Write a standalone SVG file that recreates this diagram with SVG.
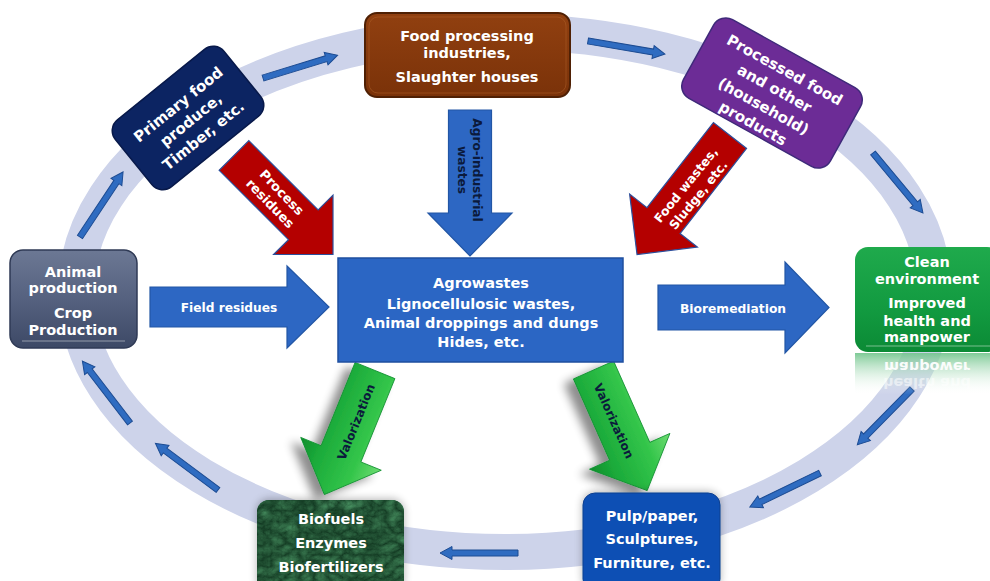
<svg xmlns="http://www.w3.org/2000/svg" width="990" height="581" viewBox="0 0 990 581">
  <defs>
    <style>
      .lbl{font-family:"DejaVu Sans","Liberation Sans",sans-serif;font-weight:bold;text-anchor:middle;fill:#ffffff;font-size:14.5px}
      .dark{fill:#0b1a3c}
      .ring{fill:none;stroke:#cdd3ea;stroke-width:36}
      .ra{fill:#2f6cc1;stroke:#1d4c93;stroke-width:1}
      .blue-arrow{fill:#2d67c3;stroke:#2256a5;stroke-width:1.2}
      .red-arrow{fill:#b40000;stroke:#2b4f9c;stroke-width:1.2}
      .green-arrow{fill:url(#gGreen);stroke:#119030;stroke-width:0.8}
    </style>
    <!-- small arrow running along the cycle band -->
    <path id="ra" d="M0,-3 L66,-3 L66,-6.5 L78,0 L66,6.5 L66,3 L0,3 Z"/>
    <linearGradient id="gGreen" x1="0" y1="0" x2="0" y2="1">
      <stop offset="0" stop-color="#6fdc72"/>
      <stop offset="0.3" stop-color="#33c54a"/>
      <stop offset="0.75" stop-color="#1baa3a"/>
      <stop offset="1" stop-color="#0f8d2c"/>
    </linearGradient>
    <linearGradient id="gSlate" x1="0" y1="0" x2="0" y2="1">
      <stop offset="0" stop-color="#6c7894"/>
      <stop offset="0.5" stop-color="#55617f"/>
      <stop offset="1" stop-color="#3d4966"/>
    </linearGradient>
    <linearGradient id="gClean" x1="0" y1="0" x2="0" y2="1">
      <stop offset="0" stop-color="#1faa4c"/>
      <stop offset="0.6" stop-color="#129a40"/>
      <stop offset="1" stop-color="#0b8a35"/>
    </linearGradient>
    <linearGradient id="gBrown" x1="0" y1="0" x2="0" y2="1">
      <stop offset="0" stop-color="#914010"/>
      <stop offset="1" stop-color="#7a3209"/>
    </linearGradient>
    <linearGradient id="gRefl" x1="0" y1="0" x2="0" y2="1">
      <stop offset="0" stop-color="#6fc48a" stop-opacity="0.9"/>
      <stop offset="1" stop-color="#ffffff" stop-opacity="0"/>
    </linearGradient>
    <filter id="shadow" x="-40%" y="-40%" width="180%" height="180%">
      <feGaussianBlur in="SourceAlpha" stdDeviation="5"/>
      <feOffset dx="-9" dy="5"/>
      <feComponentTransfer><feFuncA type="linear" slope="0.45"/></feComponentTransfer>
      <feMerge><feMergeNode/><feMergeNode in="SourceGraphic"/></feMerge>
    </filter>
    <filter id="glow" x="-20%" y="-20%" width="140%" height="140%">
      <feGaussianBlur in="SourceAlpha" stdDeviation="4"/>
      <feOffset dx="0" dy="-1"/>
      <feComponentTransfer><feFuncA type="linear" slope="0.3"/></feComponentTransfer>
      <feMerge><feMergeNode/><feMergeNode in="SourceGraphic"/></feMerge>
    </filter>
    <!-- dark green marble surface -->
    <filter id="marble" x="0" y="0" width="100%" height="100%" color-interpolation-filters="sRGB">
      <feTurbulence type="turbulence" baseFrequency="0.07 0.09" numOctaves="4" seed="11" result="n"/>
      <feColorMatrix in="n" type="matrix" values="0.22 0 0 0 0.07  0.36 0 0 0 0.22  0.26 0 0 0 0.13  0 0 0 0 1" result="c"/>
      <feComposite in="c" in2="SourceGraphic" operator="in"/>
    </filter>
    <clipPath id="reflClip"><rect x="850" y="352" width="140" height="42"/></clipPath>
  </defs>

  <rect width="990" height="581" fill="#ffffff"/>

  <!-- cycle band and its direction arrows -->
  <g id="connectors">
    <ellipse class="ring" cx="505" cy="292" rx="429" ry="260"/>
    <use href="#ra" class="ra" transform="translate(263,78) rotate(-17)"/>
    <use href="#ra" class="ra" transform="translate(80,237) rotate(-56.5)"/>
    <use href="#ra" class="ra" transform="translate(588,41) rotate(9.6)"/>
    <use href="#ra" class="ra" transform="translate(873,153) rotate(50.2)"/>
    <use href="#ra" class="ra" transform="translate(912,389) rotate(134.5)"/>
    <use href="#ra" class="ra" transform="translate(820,473) rotate(154.1)"/>
    <use href="#ra" class="ra" transform="translate(518,553) rotate(180)"/>
    <use href="#ra" class="ra" transform="translate(218,490) rotate(216.7)"/>
    <use href="#ra" class="ra" transform="translate(130,423) rotate(232.4)"/>

    <!-- waste streams into the central pool -->
    <g id="arrow-process-residues">
      <path class="red-arrow" transform="translate(234,155.5) rotate(45)" d="M0,-21 L98,-21 L98,-42 L140,0 L98,42 L98,21 L0,21 Z"/>
      <g transform="translate(276,198) rotate(46)">
        <text class="lbl" style="font-size:13px" x="0" y="-3.5">Process</text>
        <text class="lbl" style="font-size:13px" x="0" y="12.5">residues</text>
      </g>
    </g>
    <g id="arrow-agro-industrial">
      <path class="blue-arrow" transform="translate(470,110) rotate(90)" d="M0,-21.5 L103,-21.5 L103,-42 L146,0 L103,42 L103,21.5 L0,21.5 Z"/>
      <g transform="translate(470,170) rotate(90)">
        <text class="lbl dark" style="font-size:12.2px" x="0" y="-3">Agro-industrial</text>
        <text class="lbl dark" style="font-size:12.2px" x="0" y="12">wastes</text>
      </g>
    </g>
    <g id="arrow-food-wastes">
      <path class="red-arrow" transform="translate(730,135.5) rotate(128)" d="M0,-21 L108,-21 L108,-43 L151,0 L108,43 L108,21 L0,21 Z"/>
      <g transform="translate(692,190) rotate(-51)">
        <text class="lbl" style="font-size:12.5px" x="0" y="-3.5">Food wastes,</text>
        <text class="lbl" style="font-size:12.5px" x="0" y="12.5">Sludge, etc.</text>
      </g>
    </g>
    <g id="arrow-field-residues">
      <path class="blue-arrow" d="M150,287 L287,287 L287,266 L329,307 L287,348 L287,327 L150,327 Z"/>
      <text class="lbl" style="font-size:12.2px" x="229" y="311.5">Field residues</text>
    </g>
    <g id="arrow-bioremediation">
      <path class="blue-arrow" d="M658,285 L785,285 L785,262 L829,307.5 L785,353 L785,330 L658,330 Z"/>
      <text class="lbl" style="font-size:12.3px" x="733" y="312.5">Bioremediation</text>
    </g>

    <!-- valorization routes -->
    <g id="arrow-valorization-left">
      <g filter="url(#shadow)">
        <path class="green-arrow" transform="translate(375,370.5) rotate(112.2)" d="M0,-21.5 L90,-21.5 L90,-43.5 L134,0 L90,43.5 L90,21.5 L0,21.5 Z"/>
      </g>
      <text class="lbl dark" style="font-size:12px" transform="translate(356,422) rotate(-68)" x="0" y="4.3">Valorization</text>
    </g>
    <g id="arrow-valorization-right">
      <g filter="url(#shadow)">
        <path class="green-arrow" transform="translate(593.5,370) rotate(66)" d="M0,-22 L89,-22 L89,-44 L132,0 L89,44 L89,22 L0,22 Z"/>
      </g>
      <text class="lbl dark" style="font-size:12px" transform="translate(614,421) rotate(66)" x="0" y="4.3">Valorization</text>
    </g>
  </g>

  <!-- nodes -->
  <g id="node-primary" transform="translate(188,118) rotate(-39)">
    <rect x="-70" y="-43" width="140" height="86" rx="14" fill="#0c2462" stroke="#08194a" stroke-width="1.5"/>
    <text class="lbl" style="font-size:15px" x="1" y="-11.5">Primary food</text>
    <text class="lbl" style="font-size:15px" x="1" y="8.5">produce,</text>
    <text class="lbl" style="font-size:15px" x="1" y="28.5">Timber, etc.</text>
  </g>

  <g id="node-food-processing">
    <rect x="365" y="13" width="205" height="84" rx="12" fill="url(#gBrown)" stroke="#4f2004" stroke-width="2"/>
    <rect x="369" y="17" width="197" height="76" rx="9" fill="none" stroke="#b0622a" stroke-opacity="0.5" stroke-width="1"/>
    <text class="lbl" x="467" y="41">Food processing</text>
    <text class="lbl" x="467" y="58">industries,</text>
    <text class="lbl" x="467" y="82">Slaughter houses</text>
  </g>

  <g id="node-processed" transform="translate(772,93) rotate(29)">
    <rect x="-84" y="-45" width="168" height="90" rx="14" fill="#6c2c96" stroke="#3f2a7a" stroke-width="1.5"/>
    <text class="lbl" style="font-size:15px" x="0" y="-21">Processed food</text>
    <text class="lbl" style="font-size:15px" x="0" y="0">and other</text>
    <text class="lbl" style="font-size:15px" x="-1" y="21">(household)</text>
    <text class="lbl" style="font-size:15px" x="-2" y="41">products</text>
  </g>

  <g id="node-animal">
    <rect x="10" y="250" width="127" height="98" rx="13" fill="url(#gSlate)" stroke="#2f3a55" stroke-width="1.5"/>
    <line x1="22" y1="341" x2="125" y2="341" stroke="#ffffff" stroke-opacity="0.3" stroke-width="1.5"/>
    <text class="lbl" x="73" y="277">Animal</text>
    <text class="lbl" x="73" y="293">production</text>
    <text class="lbl" x="73" y="318">Crop</text>
    <text class="lbl" x="73" y="335">Production</text>
  </g>

  <g id="node-pool">
    <rect x="338" y="258" width="285" height="104" fill="#2b66c4" stroke="#1f4f9f" stroke-width="1.5"/>
    <text class="lbl" x="481" y="288">Agrowastes</text>
    <text class="lbl" x="481" y="309">Lignocellulosic wastes,</text>
    <text class="lbl" x="481" y="328">Animal droppings and dungs</text>
    <text class="lbl" x="481" y="347">Hides, etc.</text>
  </g>

  <g id="node-clean">
    <g clip-path="url(#reflClip)">
      <rect x="855" y="353" width="140" height="42" fill="url(#gRefl)"/>
      <g transform="translate(0,704) scale(1,-1)">
        <text class="lbl" x="927" y="342" style="fill-opacity:0.95">manpower</text>
        <text class="lbl" x="927" y="326" style="fill-opacity:0.55">health and</text>
      </g>
    </g>
    <rect x="855" y="247" width="145" height="105" rx="13" fill="url(#gClean)"/>
    <line x1="866" y1="346" x2="990" y2="346" stroke="#ffffff" stroke-opacity="0.3" stroke-width="1.5"/>
    <text class="lbl" x="927" y="267">Clean</text>
    <text class="lbl" x="927" y="284">environment</text>
    <text class="lbl" x="927" y="308">Improved</text>
    <text class="lbl" x="927" y="326">health and</text>
    <text class="lbl" x="927" y="342">manpower</text>
  </g>

  <g id="node-biofuels">
    <rect x="257" y="500" width="147" height="92" rx="12" fill="#1c5a38" filter="url(#glow)"/>
    <rect x="257" y="500" width="147" height="92" rx="12" fill="#1c5a38" filter="url(#marble)"/>
    <text class="lbl" x="331" y="524">Biofuels</text>
    <text class="lbl" x="331" y="548">Enzymes</text>
    <text class="lbl" x="331" y="572">Biofertilizers</text>
  </g>

  <g id="node-pulp">
    <rect x="583" y="493" width="137" height="98" rx="12" fill="#0c50b4" stroke="#0a3f8f" stroke-width="1" filter="url(#glow)"/>
    <text class="lbl" x="652" y="521">Pulp/paper,</text>
    <text class="lbl" x="652" y="544">Sculptures,</text>
    <text class="lbl" x="652" y="568">Furniture, etc.</text>
  </g>
</svg>
